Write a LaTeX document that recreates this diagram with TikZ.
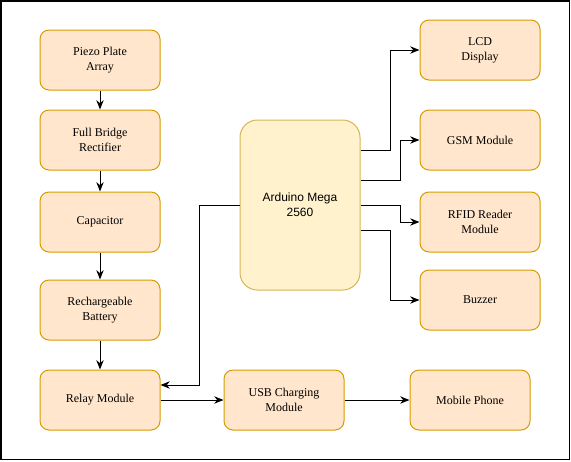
\documentclass[tikz,border=0pt]{standalone}
\usepackage{fontspec}
\setmainfont{Liberation Serif}
\setsansfont{Liberation Sans}
\newfontfamily\blkfont{Liberation Serif}
\usetikzlibrary{arrows.meta}

\definecolor{blkfill}{HTML}{FFE6CC}
\definecolor{blkline}{HTML}{D79B00}
\definecolor{megafill}{HTML}{FFF2CC}
\definecolor{megaline}{HTML}{D6B656}

\tikzset{
  blk/.style={draw=blkline, fill=blkfill, rounded corners=6.75pt, line width=0.75pt,
    minimum width=90pt, minimum height=45pt, align=center, inner sep=1pt,
    font=\blkfont\fontsize{9}{11}\selectfont},
  mega/.style={draw=megaline, fill=megafill, rounded corners=13pt, line width=0.75pt,
    minimum width=90pt, minimum height=127.5pt, align=center,
    font=\sffamily\fontsize{9}{11}\selectfont},
  arr/.style={-{Stealth[length=7pt,width=5.5pt]}, line width=0.75pt}
}

\begin{document}
\begin{tikzpicture}[x=0.75pt,y=-0.75pt]
    \useasboundingbox (0,0) rectangle (571,461);
    \draw[line width=1.1pt] (1,1) rectangle (569.5,459.5);

% left column
\node[blk] (piezo) at (100,60) {Piezo Plate\\Array};
\node[blk] (fbr) at (100,140) {Full Bridge\\Rectifier};
\node[blk] (cap) at (100,222) {Capacitor};
\node[blk] (batt) at (100,310) {Rechargeable\\Battery};
\node[blk] (relay) at (100,400) {Relay Module};

% bottom row
\node[blk] (usb) at (284,400) {USB Charging\\Module};
\node[blk] (phone) at (470,400) {Mobile Phone};

% controller
\node[mega] (ard) at (300,205) {Arduino Mega\\2560};

% right column
\node[blk] (lcd) at (480,50) {LCD\\Display};
\node[blk] (gsm) at (480,140) {GSM Module};
\node[blk] (rfid) at (480,222) {RFID Reader\\Module};
\node[blk] (buz) at (480,300) {Buzzer};

\draw[arr] (piezo) -- (fbr);
\draw[arr] (fbr) -- (cap);
\draw[arr] (cap) -- (batt);
\draw[arr] (batt) -- (relay);

\draw[arr] (relay) -- (usb);
\draw[arr] (usb) -- (phone);

\draw[arr] (ard.west) -- ++(-40,0) |- ([yshift=11.25pt]relay.east);

\draw[arr] ([yshift=41.25pt]ard.east) -- ++(30,0) |- (lcd.west);
\draw[arr] ([yshift=18.75pt]ard.east) -- ++(40,0) |- (gsm.west);
\draw[arr] (ard.east) -- ++(40,0) |- (rfid.west);
\draw[arr] ([yshift=-18.75pt]ard.east) -- ++(30,0) |- (buz.west);

\end{tikzpicture}
\end{document}
